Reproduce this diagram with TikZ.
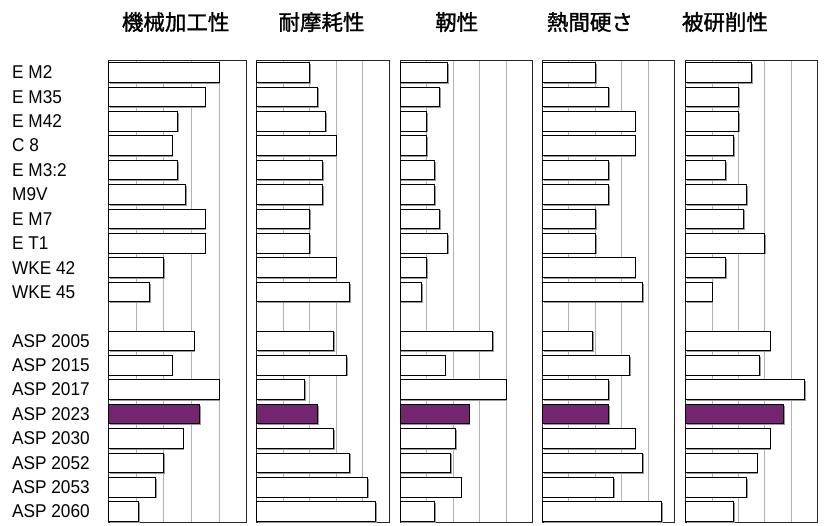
\documentclass[tikz,border=0pt]{standalone}
\usepackage{fontspec}
\setmainfont{Liberation Sans}
\newfontfamily\jpfont{Noto Sans CJK JP}[FakeBold=1.4]
\newfontfamily\labfont{Liberation Sans}[FakeStretch=0.93]
\usepackage{xcolor}
\usepackage{tikz}
\definecolor{aspviolet}{RGB}{115,37,112}

\tikzset{
    panelframe/.style={draw=black!85, line width=1pt},
    gridline/.style={draw=black!30, line width=0.9pt},
    barbox/.style={draw=black, line width=0.9pt, fill=white},
    barshadow/.style={fill=black!40},
    steelname/.style={anchor=west, inner sep=0pt, font=\labfont\fontsize{18.5}{18.5}\selectfont},
    heading/.style={anchor=west, inner sep=0pt, font=\jpfont\fontsize{21.5}{21.5}\selectfont}
}

\begin{document}
\begin{tikzpicture}[x=1pt, y=-1pt]
    \useasboundingbox (0,0) rectangle (824,525);

    % headings
    \node[heading] (machin) at (121.7,22) {機械加工性};
    \node[heading] (wear)   at (278.3,22) {耐摩耗性};
    \node[heading] (tough)  at (435.0,22) {靭性};
    \node[heading] (hot)    at (546.7,22) {熱間硬さ};
    \node[heading] (grind)  at (681.7,22) {被研削性};

    % grade names
    \foreach \lab [count=\i from 0] in {E M2, E M35, E M42, C 8, E M3:2, M9V, E M7, E T1, WKE 42, WKE 45, {},
            ASP 2005, ASP 2015, ASP 2017, ASP 2023, ASP 2030, ASP 2052, ASP 2053, ASP 2060}
        \node[steelname] (lab\i) at (12, 72.4+24.4*\i) {\lab};

    % panels: left edge / grid step / values
    \foreach \px/\pw/\vals in {
            108.3/27.68/{4,3.5,2.5,2.3,2.5,2.8,3.5,3.5,2,1.5,0,3.1,2.3,4,3.3,2.7,2,1.7,1.1},
            256.7/26.46/{2,2.3,2.6,3,2.5,2.5,2,2,3,3.5,0,2.9,3.4,1.8,2.3,2.9,3.5,4.2,4.5},
            400.0/26.54/{1.8,1.5,1,1,1.3,1.3,1.5,1.8,1,0.8,0,3.5,1.7,4,2.6,2.1,1.9,2.3,1.3},
            542.3/26.48/{2,2.5,3.5,3.5,2.5,2.5,2,2,3.5,3.8,0,1.9,3.3,2.5,2.5,3.5,3.8,2.7,4.5},
            685.7/26.40/{2.5,2,2,1.8,1.5,2.3,2.2,3,1.5,1,0,3.2,2.8,4.5,3.7,3.2,2.7,2.3,1.8}} {
        \foreach \k in {1,...,4}
            \draw[gridline] (\px+\k*\pw,60) -- (\px+\k*\pw,522.7);
        \draw[panelframe] (\px,60) rectangle (\px+5*\pw,522.7);
        \foreach \v [count=\i from 0] in \vals {
            \ifdim \v pt>0pt
                \fill[barshadow] (\px+1.3,62.7+24.4*\i+1.3) rectangle (\px+\v*\pw+1.3,82.2+24.4*\i+1.3);
                \ifnum\i=14
                    \draw[barbox, fill=aspviolet] (\px,62.7+24.4*\i) rectangle (\px+\v*\pw,82.2+24.4*\i);
                \else
                    \draw[barbox] (\px,62.7+24.4*\i) rectangle (\px+\v*\pw,82.2+24.4*\i);
                \fi
            \fi
        }
    }
\end{tikzpicture}
\end{document}
